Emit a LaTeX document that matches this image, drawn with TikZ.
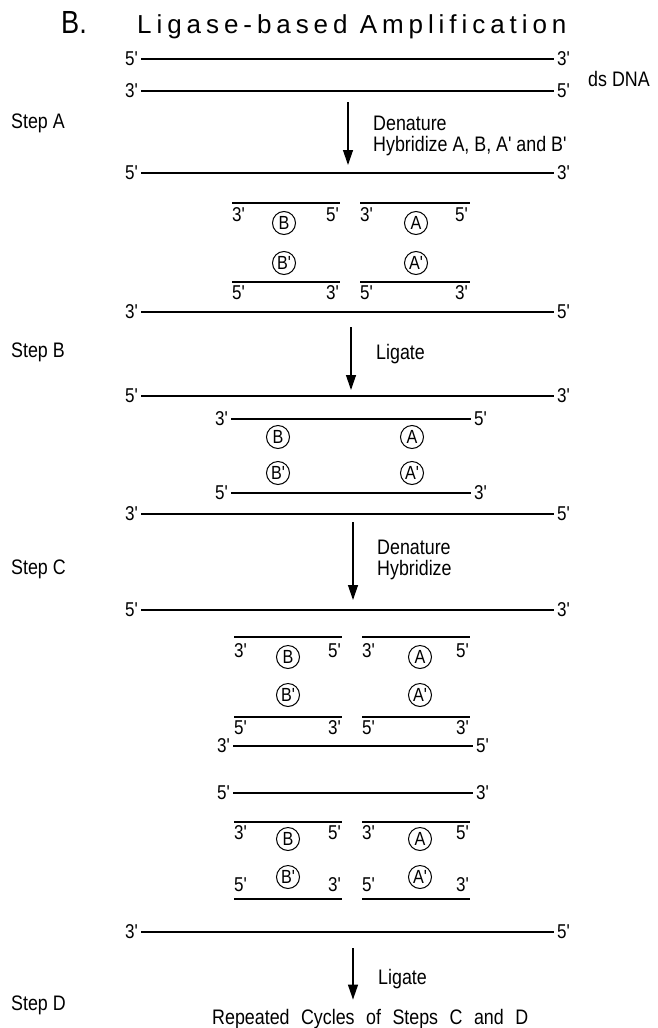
\documentclass[tikz,border=0pt]{standalone}
\usepackage{fontspec}
\setmainfont{Liberation Sans}[Ligatures=TeXOff, FakeStretch=0.85]
\newfontfamily\titlefont{Liberation Sans}[Ligatures=TeXOff, LetterSpace=19]
\usepackage{tikz}
\usetikzlibrary{arrows.meta, positioning}

\newcommand{\loosewords}{\spaceskip=11.5pt plus 1pt minus 1pt\relax}

\tikzset{
  strand/.style={line width=2pt},
  endlab/.style={inner sep=3pt, font=\fontsize{20}{22}\selectfont},
  oligo/.style={circle, draw, line width=1pt, inner sep=0pt, minimum size=23pt, font=\fontsize{19}{21}\selectfont},
  note/.style={anchor=base west, inner sep=0pt, font=\fontsize{21}{24}\selectfont},
  heading/.style={anchor=base west, inner sep=0pt},
  stepto/.style={line width=1.3pt, -{Triangle[length=15pt,width=10pt]}}
}

\begin{document}
\begin{tikzpicture}[x=1pt, y=-1pt]
        \useasboundingbox (0,0) rectangle (657,1028);

        % Title
        \node[heading, font=\fontsize{32}{36}\selectfont] (part) at (61,33) {B.};
        \node[heading, font=\titlefont\fontsize{26}{30}\selectfont] (title) at (137,33) {Ligase-based Amplification};

        % Step A: the double strand
        \node[endlab, anchor=east] (d1l) at (141,59) {5'};
        \node[endlab, anchor=west] (d1r) at (554,59) {3'};
        \draw[strand] (d1l) -- (d1r);
        \node[endlab, anchor=east] (d2l) at (141,91) {3'};
        \node[endlab, anchor=west] (d2r) at (554,91) {5'};
        \draw[strand] (d2l) -- (d2r);
        \node[note] (ds) at (588,86) {ds DNA};
        \node[note] (stepA) at (11,128) {Step A};

        \coordinate (a1s) at (348,102);
        \coordinate (a1e) at (348,165);
        \draw[stepto] (a1s) -- (a1e);
        \node[note] (den1) at (373,130) {Denature};
        \node[note] (hyb1) at (373,151) {Hybridize A, B, A' and B'};

        \node[endlab, anchor=east] (d3l) at (141,173) {5'};
        \node[endlab, anchor=west] (d3r) at (554,173) {3'};
        \draw[strand] (d3l) -- (d3r);

        % Oligos B and A on the upper strand
        \coordinate (p1a) at (232,203);
        \coordinate (p1b) at (340,203);
        \coordinate (p2a) at (360,203);
        \coordinate (p2b) at (470,203);
        \draw[strand] (p1a) -- (p1b);
        \draw[strand] (p2a) -- (p2b);
        \node[endlab, anchor=west] (p1l) at (229,215) {3'};
        \node[endlab, anchor=east] (p1r) at (342,215) {5'};
        \node[endlab, anchor=west] (p2l) at (357,215) {3'};
        \node[endlab, anchor=east] (p2r) at (471,215) {5'};
        \node[oligo] (oB1) at (284,223) {B};
        \node[oligo] (oA1) at (416,223) {A};

        % Oligos B' and A' on the lower strand
        \node[oligo] (oBp1) at (284,263) {B'};
        \node[oligo] (oAp1) at (416,263) {A'};
        \coordinate (q1a) at (232,282);
        \coordinate (q1b) at (340,282);
        \coordinate (q2a) at (360,282);
        \coordinate (q2b) at (470,282);
        \draw[strand] (q1a) -- (q1b);
        \draw[strand] (q2a) -- (q2b);
        \node[endlab, anchor=west] (q1l) at (229,293) {5'};
        \node[endlab, anchor=east] (q1r) at (342,293) {3'};
        \node[endlab, anchor=west] (q2l) at (357,293) {5'};
        \node[endlab, anchor=east] (q2r) at (471,293) {3'};

        \node[endlab, anchor=east] (d4l) at (141,312) {3'};
        \node[endlab, anchor=west] (d4r) at (554,312) {5'};
        \draw[strand] (d4l) -- (d4r);

        % Step B: ligation
        \node[note] (stepB) at (11,357) {Step B};
        \coordinate (a2s) at (351,327);
        \coordinate (a2e) at (351,390);
        \draw[stepto] (a2s) -- (a2e);
        \node[note] (lig1) at (376,359) {Ligate};

        \node[endlab, anchor=east] (d5l) at (141,396) {5'};
        \node[endlab, anchor=west] (d5r) at (554,396) {3'};
        \draw[strand] (d5l) -- (d5r);
        \node[endlab, anchor=east] (g1l) at (231,419) {3'};
        \node[endlab, anchor=west] (g1r) at (471,419) {5'};
        \draw[strand] (g1l) -- (g1r);
        \node[oligo] (oB2) at (278,437) {B};
        \node[oligo] (oA2) at (412,437) {A};
        \node[oligo] (oBp2) at (278,473) {B'};
        \node[oligo] (oAp2) at (412,473) {A'};
        \node[endlab, anchor=east] (g2l) at (231,493) {5'};
        \node[endlab, anchor=west] (g2r) at (471,493) {3'};
        \draw[strand] (g2l) -- (g2r);
        \node[endlab, anchor=east] (d6l) at (141,514) {3'};
        \node[endlab, anchor=west] (d6r) at (554,514) {5'};
        \draw[strand] (d6l) -- (d6r);

        % Step C: denature and hybridize again
        \node[note] (stepC) at (11,574) {Step C};
        \coordinate (a3s) at (353,522);
        \coordinate (a3e) at (353,600);
        \draw[stepto] (a3s) -- (a3e);
        \node[note] (den2) at (377,554) {Denature};
        \node[note] (hyb2) at (377,575) {Hybridize};

        \node[endlab, anchor=east] (d7l) at (141,610) {5'};
        \node[endlab, anchor=west] (d7r) at (554,610) {3'};
        \draw[strand] (d7l) -- (d7r);

        \coordinate (r1a) at (234,637);
        \coordinate (r1b) at (342,637);
        \coordinate (r2a) at (362,637);
        \coordinate (r2b) at (470,637);
        \draw[strand] (r1a) -- (r1b);
        \draw[strand] (r2a) -- (r2b);
        \node[endlab, anchor=west] (r1l) at (231,651) {3'};
        \node[endlab, anchor=east] (r1r) at (344,651) {5'};
        \node[endlab, anchor=west] (r2l) at (359,651) {3'};
        \node[endlab, anchor=east] (r2r) at (472,651) {5'};
        \node[oligo] (oB3) at (288,657) {B};
        \node[oligo] (oA3) at (420,657) {A};
        \node[oligo] (oBp3) at (288,695) {B'};
        \node[oligo] (oAp3) at (420,695) {A'};
        \coordinate (s1a) at (234,717);
        \coordinate (s1b) at (342,717);
        \coordinate (s2a) at (362,717);
        \coordinate (s2b) at (470,717);
        \draw[strand] (s1a) -- (s1b);
        \draw[strand] (s2a) -- (s2b);
        \node[endlab, anchor=west] (s1l) at (231,728) {5'};
        \node[endlab, anchor=east] (s1r) at (344,728) {3'};
        \node[endlab, anchor=west] (s2l) at (359,728) {5'};
        \node[endlab, anchor=east] (s2r) at (472,728) {3'};

        \node[endlab, anchor=east] (m1l) at (233,746) {3'};
        \node[endlab, anchor=west] (m1r) at (473,746) {5'};
        \draw[strand] (m1l) -- (m1r);
        \node[endlab, anchor=east] (m2l) at (233,793) {5'};
        \node[endlab, anchor=west] (m2r) at (473,793) {3'};
        \draw[strand] (m2l) -- (m2r);

        \coordinate (t1a) at (234,822);
        \coordinate (t1b) at (342,822);
        \coordinate (t2a) at (362,822);
        \coordinate (t2b) at (470,822);
        \draw[strand] (t1a) -- (t1b);
        \draw[strand] (t2a) -- (t2b);
        \node[endlab, anchor=west] (t1l) at (231,833) {3'};
        \node[endlab, anchor=east] (t1r) at (344,833) {5'};
        \node[endlab, anchor=west] (t2l) at (359,833) {3'};
        \node[endlab, anchor=east] (t2r) at (472,833) {5'};
        \node[oligo] (oB4) at (288,839) {B};
        \node[oligo] (oA4) at (420,839) {A};
        \node[oligo] (oBp4) at (288,877) {B'};
        \node[oligo] (oAp4) at (420,877) {A'};
        \node[endlab, anchor=west] (u1l) at (231,885) {5'};
        \node[endlab, anchor=east] (u1r) at (344,885) {3'};
        \node[endlab, anchor=west] (u2l) at (359,885) {5'};
        \node[endlab, anchor=east] (u2r) at (472,885) {3'};
        \coordinate (u1a) at (234,899);
        \coordinate (u1b) at (342,899);
        \coordinate (u2a) at (362,899);
        \coordinate (u2b) at (470,899);
        \draw[strand] (u1a) -- (u1b);
        \draw[strand] (u2a) -- (u2b);

        \node[endlab, anchor=east] (d8l) at (141,932) {3'};
        \node[endlab, anchor=west] (d8r) at (554,932) {5'};
        \draw[strand] (d8l) -- (d8r);

        % Step D
        \node[note] (stepD) at (11,1010) {Step D};
        \node[note] (lig2) at (378,984) {Ligate};
        \node[note, font=\fontsize{21}{24}\selectfont\loosewords] (cycles) at (212,1024) {Repeated Cycles of Steps C and D};
        \coordinate (a4s) at (353,948);
        \draw[stepto, shorten >=9pt] (a4s) -- (a4s |- cycles.north);
\end{tikzpicture}
\end{document}
